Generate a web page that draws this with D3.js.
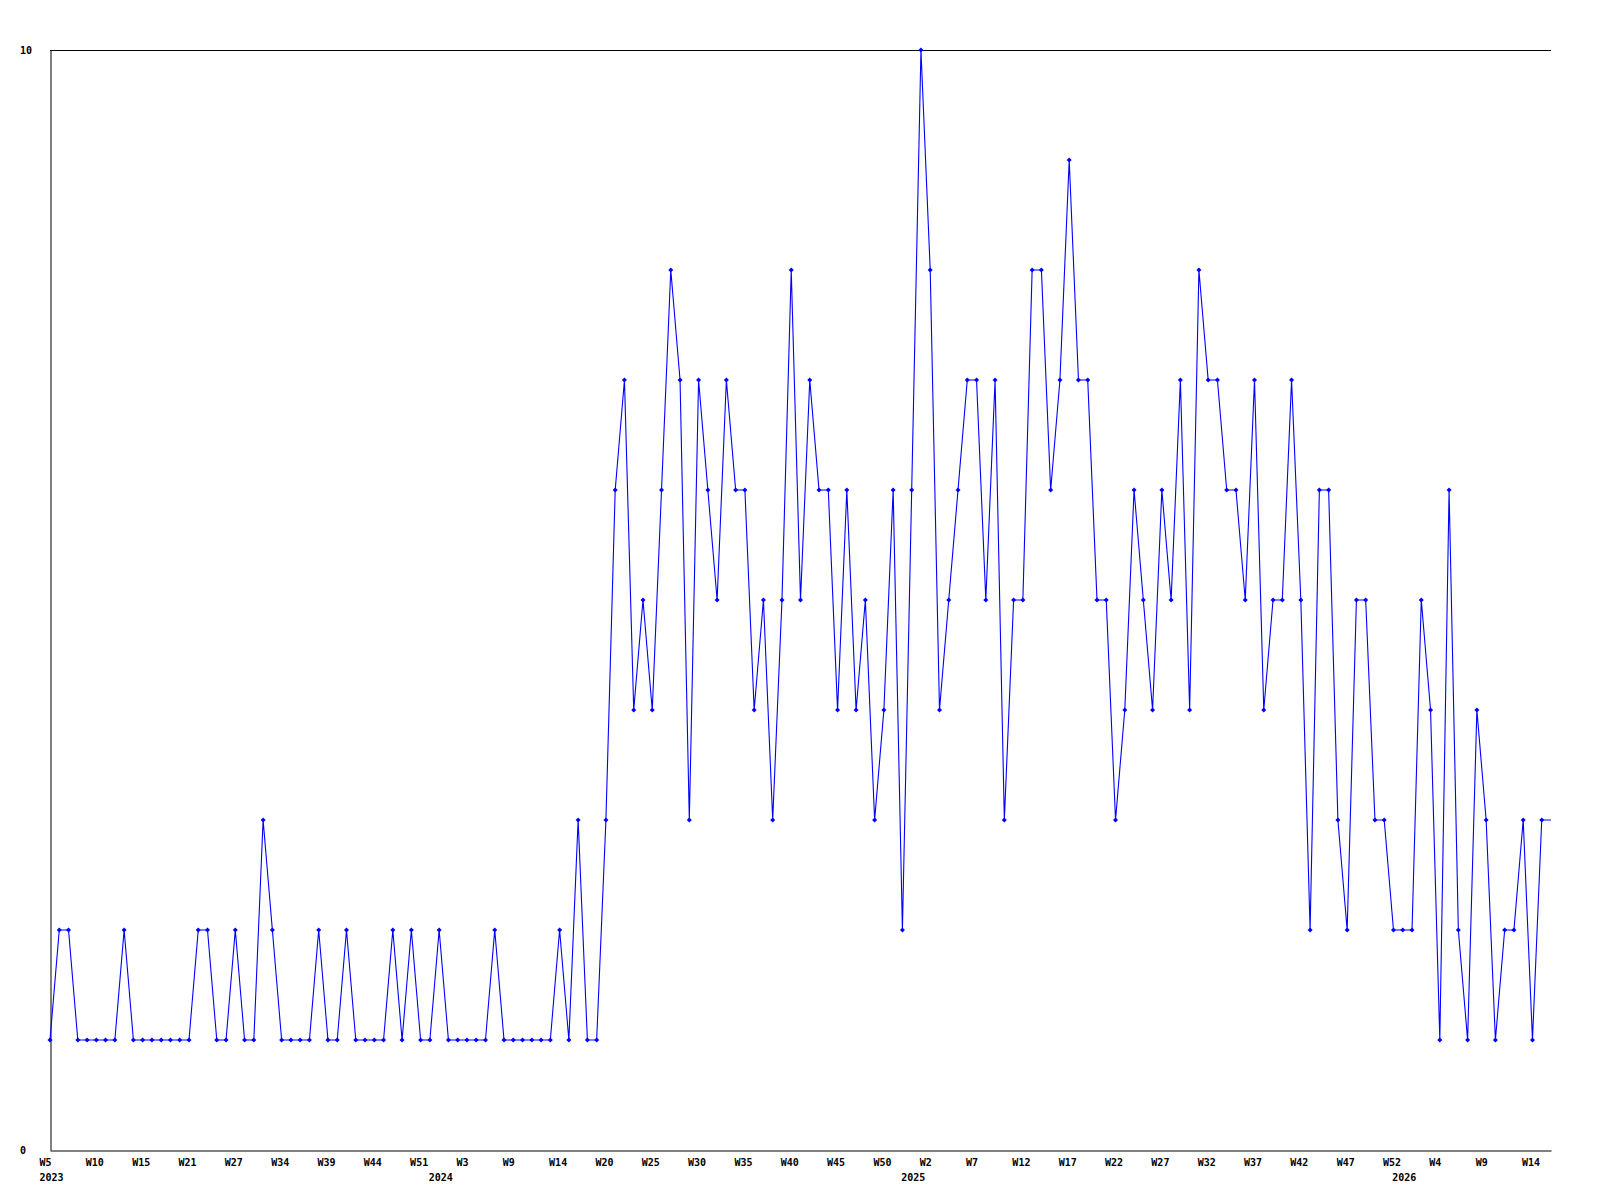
<!DOCTYPE html>
<html>
<head>
<meta charset="utf-8">
<script src="https://cdn.jsdelivr.net/npm/d3@7"></script>
<style>
  html, body { margin: 0; padding: 0; background: #ffffff; }
  svg { display: block; }
  text { font-family: "DejaVu Sans Mono", "Liberation Mono", monospace; font-weight: bold; font-size: 10px; fill: #000; }
</style>
</head>
<body>
<svg id="chart" width="1600" height="1200"></svg>
<script>
// ---- data ----
// weekly counts, one value per plotted week (2023 W5 onward); last value is the running (unmarked) week
const values = [
  1,2,2,1,1,1,1,1,2,1,
  1,1,1,1,1,1,2,2,1,1,
  2,1,1,3,2,1,1,1,1,2,
  1,1,2,1,1,1,1,2,1,2,
  1,1,2,1,1,1,1,1,2,1,
  1,1,1,1,1,2,1,3,1,1,
  3,6,7,4,5,4,6,8,7,3,
  7,6,5,7,6,6,4,5,3,5,
  8,5,7,6,6,4,6,4,5,3,
  4,6,2,6,10,8,4,5,6,7,
  7,5,7,3,5,5,8,8,6,7,
  9,7,7,5,5,3,4,6,5,4,
  6,5,7,4,8,7,7,6,6,5,
  7,4,5,5,7,5,2,6,6,3,
  2,5,5,3,3,2,2,2,5,4,
  1,6,2,1,4,3,1,2,2,3,
  1,3,
  3
];
const markedCount = 162; // points drawn with a marker

const weekTickIdx = [0,5,10,15,20,25,30,35,40,45,50,55,60,65,70,75,80,85,90,95,100,105,110,115,120,125,130,135,140,145,150,155,160];
const weekTickLabels = ["W5","W10","W15","W21","W27","W34","W39","W44","W51","W3","W9","W14","W20","W25","W30","W35","W40","W45","W50","W2","W7","W12","W17","W22","W27","W32","W37","W42","W47","W52","W4","W9","W14"];
const yearTickIdx = [0,42,93,146];
const yearTickLabels = ["2023","2024","2025","2026"];
const yTickValues = [0,10];

// ---- layout ----
const svg = d3.select("#chart");
const mLeft = 50, mRight = 1551, mTop = 50, mBottom = 1150;

const x = d3.scaleLinear().domain([0, values.length - 1]).range([mLeft, mRight]);
const y = d3.scaleLinear().domain([0, 10]).range([mBottom, mTop]);

// top frame line
svg.append("line")
  .attr("x1", x(0)).attr("x2", x(values.length - 1))
  .attr("y1", y(10) + 0.5).attr("y2", y(10) + 0.5)
  .attr("stroke", "#000").attr("stroke-width", 1);

// x axis (weeks)
const xAxis = d3.axisBottom(x)
  .tickValues(weekTickIdx)
  .tickFormat((d, i) => weekTickLabels[i])
  .tickSize(0).tickSizeOuter(0).tickPadding(0);
const gx = svg.append("g").attr("transform", `translate(0,${mBottom + 0.5})`).call(xAxis);
gx.attr("font-family", null).attr("font-size", null);
gx.select(".domain").attr("stroke", "#000");
gx.selectAll(".tick text")
  .attr("text-anchor", "start").attr("dx", -11).attr("y", 12).attr("dy", "0.35em");

// year axis
const yearAxis = d3.axisBottom(x)
  .tickValues(yearTickIdx)
  .tickFormat((d, i) => yearTickLabels[i])
  .tickSize(0).tickSizeOuter(0).tickPadding(0);
const gyear = svg.append("g").attr("transform", `translate(0,${mBottom})`).call(yearAxis);
gyear.attr("font-family", null).attr("font-size", null);
gyear.select(".domain").remove();
gyear.selectAll(".tick text")
  .attr("text-anchor", "start").attr("dx", -11).attr("y", 27).attr("dy", "0.35em");

// y axis
const yAxis = d3.axisLeft(y).tickValues(yTickValues).tickSize(0).tickSizeOuter(0).tickPadding(0);
const gy = svg.append("g").attr("transform", `translate(${mLeft + 0.5},0)`).call(yAxis);
gy.attr("font-family", null).attr("font-size", null);
gy.select(".domain").attr("stroke", "#000");
gy.selectAll(".tick text").attr("text-anchor", "start").attr("x", -30.5).attr("dy", "0.35em");

// line
const line = d3.line().x((d, i) => x(i)).y(d => y(d));
svg.append("path")
  .datum(values)
  .attr("d", line)
  .attr("fill", "none")
  .attr("stroke", "#0000ff")
  .attr("stroke-width", 1.1);

// markers
const marker = "M0,-2.5L2.5,0L0,2.5L-2.5,0Z";
svg.append("g").selectAll("path")
  .data(values.slice(0, markedCount))
  .join("path")
  .attr("transform", (d, i) => `translate(${x(i)},${y(d)})`)
  .attr("d", marker)
  .attr("fill", "#0000ff");
</script>
</body>
</html>
